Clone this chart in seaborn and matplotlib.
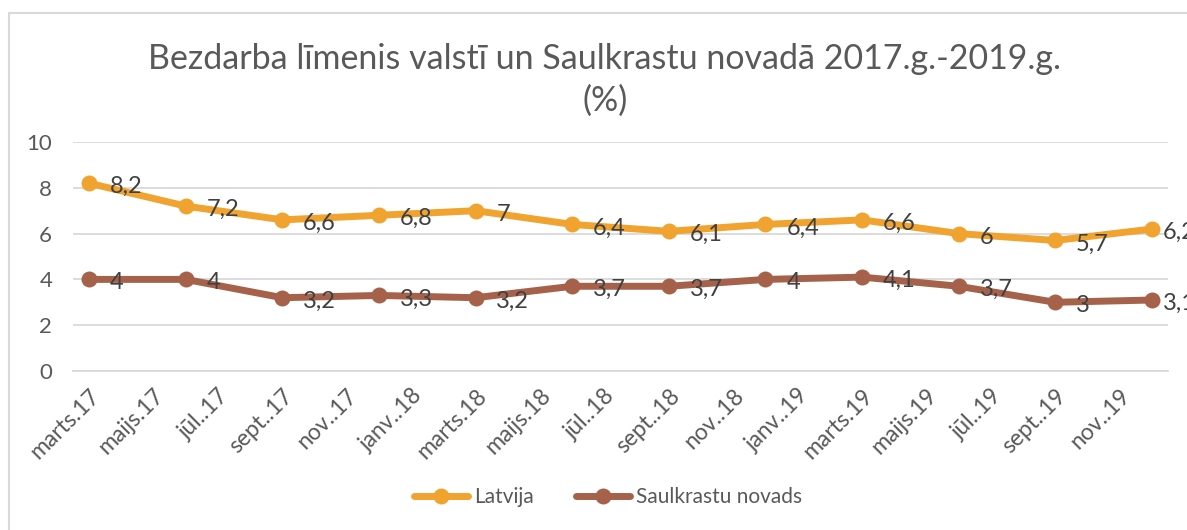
import numpy as np
import pandas as pd
import matplotlib
matplotlib.use("Agg")
import matplotlib.pyplot as plt
import seaborn as sns
from matplotlib.lines import Line2D

# data (quarterly points, Excel date axis)
months = ["2017-03", "2017-06", "2017-09", "2017-12", "2018-03", "2018-06",
          "2018-09", "2018-12", "2019-03", "2019-06", "2019-09", "2019-12"]
latvija = [8.2, 7.2, 6.6, 6.8, 7.0, 6.4, 6.1, 6.4, 6.6, 6.0, 5.7, 6.2]
saulkrastu = [4.0, 4.0, 3.2, 3.3, 3.2, 3.7, 3.7, 4.0, 4.1, 3.7, 3.0, 3.1]
series_names = ["Latvija", "Saulkrastu novads"]
tick_labels = ["marts.17", "maijs.17", "jūl..17", "sept..17", "nov..17",
               "janv..18", "marts.18", "maijs.18", "jūl..18", "sept..18", "nov..18",
               "janv..19", "marts.19", "maijs.19", "jūl..19", "sept..19", "nov..19"]
title = "Bezdarba līmenis valstī un Saulkrastu novadā 2017.g.-2019.g.\n(%)"

colors = {"Latvija": "#F0A32F", "Saulkrastu novads": "#A5614A"}

dates = pd.to_datetime(months)
start = dates[0]
mpos = (dates.year - start.year) * 12 + (dates.month - start.month) + 0.5

df = pd.concat([
    pd.DataFrame({"m": mpos, "val": latvija, "series": series_names[0]}),
    pd.DataFrame({"m": mpos, "val": saulkrastu, "series": series_names[1]}),
])

sns.set_theme(style="white")
plt.rcParams["font.family"] = ["Lato", "DejaVu Sans"]

fig = plt.figure(figsize=(11.87, 5.30), dpi=100)
ax = fig.add_axes([73 / 1187, 1 - 371 / 530, (1168 - 73) / 1187, (371 - 142) / 530])

sns.lineplot(data=df, x="m", y="val", hue="series", palette=colors,
             marker="o", markersize=11.5, markeredgewidth=0, linewidth=5,
             legend=False, ax=ax)

# data labels (Excel pulls the last one in to stay inside the chart area)
for name, vals in zip(series_names, [latvija, saulkrastu]):
    for i, (x, v) in enumerate(zip(mpos, vals)):
        txt = f"{v:g}".replace(".", ",")
        dx = 8 if i == len(vals) - 1 else 15
        ax.annotate(txt, (x, v), xytext=(dx, -2.5), textcoords="offset points",
                    ha="left", va="center", fontsize=17, color="#404040",
                    clip_on=False)

ax.set_xlim(0, 34)
ax.set_ylim(0, 10)
ax.set_yticks(np.arange(0, 11, 2))
ax.yaxis.grid(True, color="#D9D9D9", linewidth=1.3)
ax.tick_params(axis="y", length=0, labelsize=16, labelcolor="#595959", pad=15)

# tick marks at month boundaries, labels centered in month slot
ax.set_xticks(np.arange(0, 35, 2))
ax.set_xticklabels([])
ax.tick_params(axis="x", which="major", length=6, width=1.3, color="#D9D9D9", direction="out")
ax.set_xticks(np.arange(len(tick_labels)) * 2 + 0.5, minor=True)
ax.set_xticklabels(tick_labels, minor=True, rotation=45, ha="right", va="top",
                   rotation_mode="anchor")
ax.tick_params(axis="x", which="minor", length=0, labelsize=16.5, labelcolor="#595959", pad=10)
ax.set_xlabel("")
ax.set_ylabel("")

for s in ["top", "right", "left"]:
    ax.spines[s].set_visible(False)
ax.spines["bottom"].set_color("#D9D9D9")
ax.spines["bottom"].set_linewidth(1.3)

fig.text(605 / 1187, 1 - 80 / 530, title, ha="center", va="center",
         fontsize=24.5, color="#595959", linespacing=1.4)

handles = [Line2D([0], [0], color=colors[n], lw=5, marker="o", markersize=11.5,
                  markeredgewidth=0) for n in series_names]
fig.legend(handles, series_names, loc="center", bbox_to_anchor=(608 / 1187, 1 - 497 / 530),
           ncol=2, frameon=False, fontsize=15, handlelength=2.6, columnspacing=2.0,
           handletextpad=0.3, labelcolor="#595959")

# chart area border
fig.add_artist(Line2D([9 / 1187, 9 / 1187], [0, 1 - 13 / 530], color="#D9D9D9", lw=1.5,
                      transform=fig.transFigure))
fig.add_artist(Line2D([9 / 1187, 1], [1 - 13 / 530, 1 - 13 / 530], color="#D9D9D9", lw=1.5,
                      transform=fig.transFigure))

fig.savefig("out.png", dpi=100)
